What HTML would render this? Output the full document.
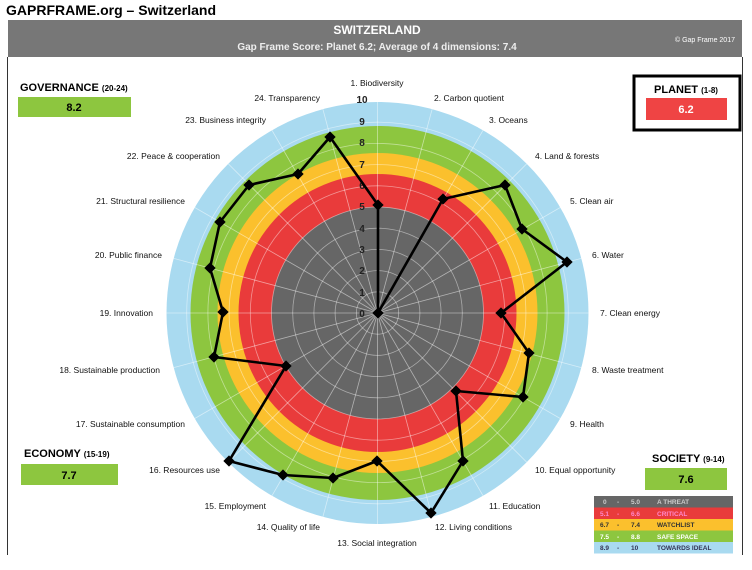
<!DOCTYPE html>
<html><head><meta charset="utf-8"><style>
html,body{margin:0;padding:0;background:#fff;}
svg{display:block;font-family:"Liberation Sans",sans-serif;}
</style></head><body>
<svg width="752" height="570" viewBox="0 0 752 570" xmlns="http://www.w3.org/2000/svg">
<text x="6" y="15" font-size="14" font-weight="bold" fill="#000">GAPRFRAME.org – Switzerland</text>
<rect x="8" y="20" width="734" height="37" fill="#777"/>
<text x="377" y="34" font-size="12" font-weight="bold" fill="#fff" text-anchor="middle">SWITZERLAND</text>
<text x="377" y="50" font-size="10" font-weight="bold" fill="#eee" text-anchor="middle">Gap Frame Score: Planet 6.2;    Average of 4 dimensions: 7.4</text>
<text x="735" y="42" font-size="7" fill="#fff" text-anchor="end">© Gap Frame 2017</text>
<line x1="7.5" y1="57" x2="7.5" y2="555" stroke="#333" stroke-width="1"/>
<line x1="742.5" y1="57" x2="742.5" y2="555" stroke="#333" stroke-width="1"/>

<text x="20" y="91" font-size="11" font-weight="bold">GOVERNANCE <tspan font-size="8">(20-24)</tspan></text>
<rect x="18" y="97" width="113" height="20" fill="#8dc63f"/>
<text x="74" y="111" font-size="11" font-weight="bold" text-anchor="middle">8.2</text>

<rect x="634" y="76" width="106" height="54" fill="none" stroke="#000" stroke-width="3"/>
<text x="686" y="93" font-size="11" font-weight="bold" text-anchor="middle">PLANET <tspan font-size="8">(1-8)</tspan></text>
<rect x="646" y="98" width="81" height="22" fill="#ef4444"/>
<text x="686" y="113" font-size="11" font-weight="bold" fill="#fff" text-anchor="middle">6.2</text>

<text x="24" y="457" font-size="11" font-weight="bold">ECONOMY <tspan font-size="8">(15-19)</tspan></text>
<rect x="21" y="464" width="97" height="21" fill="#8dc63f"/>
<text x="69" y="479" font-size="11" font-weight="bold" text-anchor="middle">7.7</text>

<text x="652" y="462" font-size="11" font-weight="bold">SOCIETY <tspan font-size="8">(9-14)</tspan></text>
<rect x="645" y="468" width="82" height="22" fill="#8dc63f"/>
<text x="686" y="483" font-size="11" font-weight="bold" text-anchor="middle">7.6</text>

<g font-size="6.5" font-weight="bold">
<rect x="594" y="496" width="139" height="11.5" fill="#666"/>
<rect x="594" y="507.5" width="139" height="11.5" fill="#e93b3b"/>
<rect x="594" y="519" width="139" height="11.5" fill="#fbc02d"/>
<rect x="594" y="530.5" width="139" height="11.5" fill="#8dc63f"/>
<rect x="594" y="542" width="139" height="11.5" fill="#a9daf0"/>
<g fill="#ccc"><text x="603" y="504">0</text><text x="617" y="504">-</text><text x="631" y="504">5.0</text><text x="657" y="504">A THREAT</text></g>
<g fill="#f8c"><text x="600" y="516">5.1</text><text x="617" y="516">-</text><text x="631" y="516">6.6</text><text x="657" y="516">CRITICAL</text></g>
<g fill="#333"><text x="600" y="527">6.7</text><text x="617" y="527">-</text><text x="631" y="527">7.4</text><text x="657" y="527">WATCHLIST</text></g>
<g fill="#fff"><text x="600" y="539">7.5</text><text x="617" y="539">-</text><text x="631" y="539">8.8</text><text x="657" y="539">SAFE  SPACE</text></g>
<g fill="#335"><text x="600" y="550">8.9</text><text x="617" y="550">-</text><text x="631" y="550">10</text><text x="657" y="550">TOWARDS IDEAL</text></g>
</g>

<g transform="translate(377.5,313)">
<circle r="211" fill="#a9daf0"/>
<circle r="187" fill="#8dc63f"/>
<circle r="160" fill="#fbc02d"/>
<circle r="139" fill="#e93b3b"/>
<circle r="106" fill="#666"/>
<g fill="none" stroke="#fff" stroke-opacity="0.45" stroke-width="0.8">
<circle r="21.2"/><circle r="42.4"/><circle r="63.6"/><circle r="84.8"/><circle r="106"/><circle r="127.2"/><circle r="148.4"/><circle r="169.6"/><circle r="190.8"/>
</g>
<g stroke="#fff" stroke-opacity="0.5" stroke-width="0.8">
<line x1="0" y1="0" x2="0" y2="-211" transform="rotate(0)"/><line x1="0" y1="0" x2="0" y2="-211" transform="rotate(15)"/><line x1="0" y1="0" x2="0" y2="-211" transform="rotate(30)"/><line x1="0" y1="0" x2="0" y2="-211" transform="rotate(45)"/><line x1="0" y1="0" x2="0" y2="-211" transform="rotate(60)"/><line x1="0" y1="0" x2="0" y2="-211" transform="rotate(75)"/><line x1="0" y1="0" x2="0" y2="-211" transform="rotate(90)"/><line x1="0" y1="0" x2="0" y2="-211" transform="rotate(105)"/><line x1="0" y1="0" x2="0" y2="-211" transform="rotate(120)"/><line x1="0" y1="0" x2="0" y2="-211" transform="rotate(135)"/><line x1="0" y1="0" x2="0" y2="-211" transform="rotate(150)"/><line x1="0" y1="0" x2="0" y2="-211" transform="rotate(165)"/><line x1="0" y1="0" x2="0" y2="-211" transform="rotate(180)"/><line x1="0" y1="0" x2="0" y2="-211" transform="rotate(195)"/><line x1="0" y1="0" x2="0" y2="-211" transform="rotate(210)"/><line x1="0" y1="0" x2="0" y2="-211" transform="rotate(225)"/><line x1="0" y1="0" x2="0" y2="-211" transform="rotate(240)"/><line x1="0" y1="0" x2="0" y2="-211" transform="rotate(255)"/><line x1="0" y1="0" x2="0" y2="-211" transform="rotate(270)"/><line x1="0" y1="0" x2="0" y2="-211" transform="rotate(285)"/><line x1="0" y1="0" x2="0" y2="-211" transform="rotate(300)"/><line x1="0" y1="0" x2="0" y2="-211" transform="rotate(315)"/><line x1="0" y1="0" x2="0" y2="-211" transform="rotate(330)"/><line x1="0" y1="0" x2="0" y2="-211" transform="rotate(345)"/>
</g>
</g>
<g font-size="10" font-weight="bold" fill="#222" text-anchor="middle">
<text x="362" y="317">0</text><text x="362" y="296">1</text><text x="362" y="274">2</text><text x="362" y="253">3</text><text x="362" y="232">4</text><text x="362" y="210">5</text><text x="362" y="189">6</text><text x="362" y="168">7</text><text x="362" y="146">8</text><text x="362" y="125">9</text><text x="362" y="103">10</text>
</g>
<polyline fill="none" stroke="#000" stroke-width="2.6" stroke-linejoin="round" points="378,205 378,313 443,199 505,185 522,229 567,262 501,313 529,353 523,397 456,391 463,461 431,513 377,461 333,478 283,475 229,461 286,366 214,357 223,312 210,268 220,222 249,185 298,174 330,137 378,205"/>
<g fill="#000">
<rect x="374" y="201" width="8" height="8" transform="rotate(45 378 205)"/><rect x="374" y="309" width="8" height="8" transform="rotate(45 378 313)"/><rect x="439" y="195" width="8" height="8" transform="rotate(45 443 199)"/><rect x="501" y="181" width="8" height="8" transform="rotate(45 505 185)"/><rect x="518" y="225" width="8" height="8" transform="rotate(45 522 229)"/><rect x="563" y="258" width="8" height="8" transform="rotate(45 567 262)"/><rect x="497" y="309" width="8" height="8" transform="rotate(45 501 313)"/><rect x="525" y="349" width="8" height="8" transform="rotate(45 529 353)"/><rect x="519" y="393" width="8" height="8" transform="rotate(45 523 397)"/><rect x="452" y="387" width="8" height="8" transform="rotate(45 456 391)"/><rect x="459" y="457" width="8" height="8" transform="rotate(45 463 461)"/><rect x="427" y="509" width="8" height="8" transform="rotate(45 431 513)"/><rect x="373" y="457" width="8" height="8" transform="rotate(45 377 461)"/><rect x="329" y="474" width="8" height="8" transform="rotate(45 333 478)"/><rect x="279" y="471" width="8" height="8" transform="rotate(45 283 475)"/><rect x="225" y="457" width="8" height="8" transform="rotate(45 229 461)"/><rect x="282" y="362" width="8" height="8" transform="rotate(45 286 366)"/><rect x="210" y="353" width="8" height="8" transform="rotate(45 214 357)"/><rect x="219" y="308" width="8" height="8" transform="rotate(45 223 312)"/><rect x="206" y="264" width="8" height="8" transform="rotate(45 210 268)"/><rect x="216" y="218" width="8" height="8" transform="rotate(45 220 222)"/><rect x="245" y="181" width="8" height="8" transform="rotate(45 249 185)"/><rect x="294" y="170" width="8" height="8" transform="rotate(45 298 174)"/><rect x="326" y="133" width="8" height="8" transform="rotate(45 330 137)"/>
</g>
<g font-size="8.5" fill="#111">
<text x="377" y="86" text-anchor="middle">1. Biodiversity</text>
<text x="434" y="101">2. Carbon quotient</text>
<text x="489" y="123">3. Oceans</text>
<text x="535" y="159">4. Land &amp; forests</text>
<text x="570" y="204">5. Clean air</text>
<text x="592" y="258">6. Water</text>
<text x="600" y="316">7. Clean energy</text>
<text x="592" y="373">8. Waste treatment</text>
<text x="570" y="427">9. Health</text>
<text x="535" y="473">10. Equal opportunity</text>
<text x="489" y="509">11. Education</text>
<text x="435" y="530">12. Living conditions</text>
<text x="377" y="546" text-anchor="middle">13. Social integration</text>
<g text-anchor="end">
<text x="320" y="530">14. Quality of life</text>
<text x="266" y="509">15. Employment</text>
<text x="220" y="473">16. Resources use</text>
<text x="185" y="427">17. Sustainable consumption</text>
<text x="160" y="373">18. Sustainable production</text>
<text x="153" y="316">19. Innovation</text>
<text x="162" y="258">20. Public finance</text>
<text x="185" y="204">21. Structural resilience</text>
<text x="220" y="159">22. Peace &amp; cooperation</text>
<text x="266" y="123">23. Business integrity</text>
<text x="320" y="101">24. Transparency</text>
</g>
</g>
</svg>
</body></html>
